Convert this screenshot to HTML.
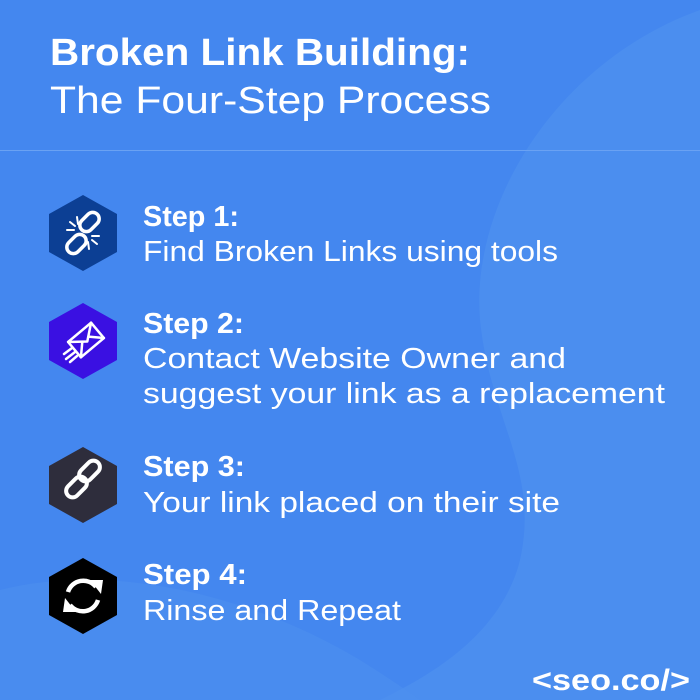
<!DOCTYPE html>
<html><head><meta charset="utf-8"><style>
html,body{margin:0;padding:0;width:700px;height:700px;overflow:hidden;background:#4487ef}
svg{display:block}
text{font-family:"Liberation Sans",sans-serif;fill:#fff}
</style></head><body>
<svg width="700" height="700" viewBox="0 0 700 700" xmlns="http://www.w3.org/2000/svg">
<rect width="700" height="700" fill="#4487ef"/>
<path d="M700 10 C560 60 470 200 480 320 C490 420 540 470 520 560 C500 640 420 680 380 700 L700 700 Z" fill="#4f91ef" opacity="0.7"/>
<path d="M0 590 C120 560 260 600 360 660 C400 685 420 700 420 700 L0 700 Z" fill="#4c8fee" opacity="0.6"/>
<line x1="0" y1="150.5" x2="700" y2="150.5" stroke="#6aa2f3" stroke-width="1"/>

<text x="50" y="65" font-size="38" font-weight="bold" textLength="420" lengthAdjust="spacingAndGlyphs">Broken Link Building:</text>
<text x="50" y="113" font-size="38" textLength="441" lengthAdjust="spacingAndGlyphs">The Four-Step Process</text>

<g>
<polygon points="83,195 117,214 117,252 83,271 49,252 49,214" fill="#0c3f94"/>
<polygon points="83,303 117,322 117,360 83,379 49,360 49,322" fill="#3a10e2"/>
<polygon points="83,447 117,466 117,504 83,523 49,504 49,466" fill="#2e2d3c"/>
<polygon points="83,558 117,577 117,615 83,634 49,615 49,577" fill="#000"/>
</g>
<g stroke="#fff" stroke-width="3.5" fill="none" stroke-linecap="round">
<rect x="83" y="211" width="13" height="22" rx="6.5" transform="rotate(45 89.5 222)"/>
<rect x="70" y="233" width="13" height="22" rx="6.5" transform="rotate(45 76.5 244)"/>
<line x1="70" y1="222" x2="75" y2="226" stroke-width="2"/><line x1="67" y1="230" x2="74" y2="230" stroke-width="2"/><line x1="77" y1="217" x2="78" y2="224" stroke-width="2"/>
<line x1="97" y1="244" x2="92" y2="240" stroke-width="2"/><line x1="99" y1="236" x2="92" y2="236" stroke-width="2"/><line x1="89" y1="249" x2="88" y2="242" stroke-width="2"/>
</g>
<g stroke="#fff" stroke-width="2.5" fill="none" stroke-linejoin="round" stroke-linecap="round">
<g transform="rotate(-40 86 340)">
<rect x="71" y="330" width="30" height="20"/>
<polyline points="71,330 86,342 101,330"/>
<line x1="71" y1="350" x2="82" y2="339"/><line x1="101" y1="350" x2="90" y2="339"/>
</g>
<line x1="64" y1="354" x2="72" y2="348"/><line x1="66" y1="359" x2="75" y2="352"/><line x1="70" y1="362" x2="77" y2="356"/>
</g>
<g stroke="#fff" stroke-width="4" fill="none">
<rect x="83" y="459" width="13" height="24" rx="6.5" transform="rotate(45 89.5 471)"/>
<rect x="70" y="475" width="13" height="24" rx="6.5" transform="rotate(45 76.5 487)"/>
</g>
<g stroke="#fff" stroke-width="4.5" fill="none">
<path d="M68 592 A16 16 0 0 1 96 587"/>
<path d="M98 600 A16 16 0 0 1 70 605"/>
</g>
<polygon points="90,580 103,580 101,594" fill="#fff"/>
<polygon points="76,612 63,612 65,598" fill="#fff"/>

<text x="143" y="226" font-size="29" font-weight="bold" textLength="96" lengthAdjust="spacingAndGlyphs">Step 1:</text>
<text x="143" y="261" font-size="29" textLength="415" lengthAdjust="spacingAndGlyphs">Find Broken Links using tools</text>
<text x="143" y="333" font-size="29" font-weight="bold" textLength="101" lengthAdjust="spacingAndGlyphs">Step 2:</text>
<text x="143" y="368" font-size="29" textLength="423" lengthAdjust="spacingAndGlyphs">Contact Website Owner and</text>
<text x="143" y="403" font-size="29" textLength="522" lengthAdjust="spacingAndGlyphs">suggest your link as a replacement</text>
<text x="143" y="476" font-size="29" font-weight="bold" textLength="102" lengthAdjust="spacingAndGlyphs">Step 3:</text>
<text x="143" y="512" font-size="29" textLength="417" lengthAdjust="spacingAndGlyphs">Your link placed on their site</text>
<text x="143" y="584" font-size="29" font-weight="bold" textLength="104" lengthAdjust="spacingAndGlyphs">Step 4:</text>
<text x="143" y="620" font-size="29" textLength="258" lengthAdjust="spacingAndGlyphs">Rinse and Repeat</text>

<text x="532" y="690" font-size="30" font-weight="bold" textLength="158" lengthAdjust="spacingAndGlyphs">&lt;seo.co/&gt;</text>
</svg>
</body></html>
